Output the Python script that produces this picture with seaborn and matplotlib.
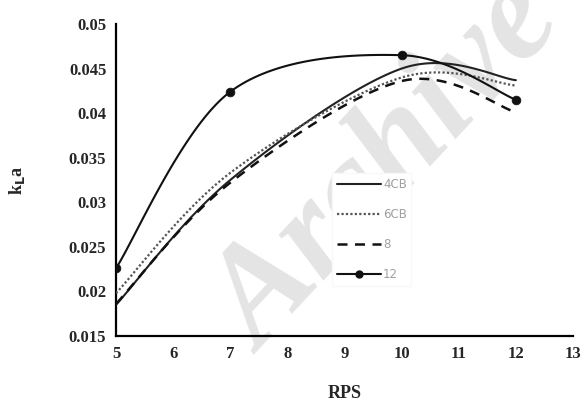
import numpy as np
import pandas as pd
import matplotlib
matplotlib.use("Agg")
import matplotlib.pyplot as plt
import seaborn as sns
from matplotlib.lines import Line2D

# ---- data ----
rps = [5, 7, 10, 12]
kla_4cb = [0.0185, 0.0325, 0.0450, 0.0437]
kla_6cb = [0.0198, 0.0333, 0.0440, 0.0431]
kla_8 = [0.0186, 0.0322, 0.0436, 0.0401]
kla_12 = [0.0226, 0.0424, 0.0465, 0.0415]
series_names = ["4CB", "6CB", "8", "12"]
x_ticks = [5, 6, 7, 8, 9, 10, 11, 12, 13]
y_ticks = [0.015, 0.02, 0.025, 0.03, 0.035, 0.04, 0.045, 0.05]


def smooth(xs, ys, n=40):
    """Excel-like smoothed line (cubic Bezier with 1/6 tangents)."""
    P = np.column_stack([xs, ys]).astype(float)
    out = []
    m = len(P)
    for i in range(m - 1):
        p0 = P[i - 1] if i > 0 else P[i]
        p1, p2 = P[i], P[i + 1]
        p3 = P[i + 2] if i + 2 < m else P[i + 1]
        c1 = p1 + (p2 - p0) / 6.0
        c2 = p2 - (p3 - p1) / 6.0
        t = np.linspace(0, 1, n)[:, None]
        seg = ((1 - t) ** 3) * p1 + 3 * ((1 - t) ** 2) * t * c1 + 3 * (1 - t) * t ** 2 * c2 + t ** 3 * p2
        out.append(seg if i == 0 else seg[1:])
    s = np.vstack(out)
    return s[:, 0], s[:, 1]


sns.set_style("white")
plt.rcParams["font.family"] = ["Liberation Serif", "DejaVu Serif"]

fig = plt.figure(figsize=(5.82, 4.03), dpi=100)
ax = fig.add_axes([116 / 582, 1 - 336 / 403, (573 - 116) / 582, (336 - 24) / 403])

# watermark (behind the plot)
fig.text(0.67, 0.58, "Archive", fontsize=100, color="#e4e4e4", rotation=47,
         ha="center", va="center", style="italic", fontweight="bold",
         family="Liberation Serif", zorder=-5)
ax.patch.set_alpha(0)

styles = {
    "4CB": dict(color="#222222", lw=1.5, ls="-"),
    "6CB": dict(color="#555555", lw=1.6, ls=(0, (1, 1))),
    "8": dict(color="#111111", lw=1.8, ls=(0, (4, 3))),
    "12": dict(color="#111111", lw=1.5, ls="-"),
}
vals = {"4CB": kla_4cb, "6CB": kla_6cb, "8": kla_8, "12": kla_12}

for name in series_names:
    sx, sy = smooth(rps, vals[name])
    df = pd.DataFrame({"RPS": sx, "kLa": sy})
    st = styles[name]
    sns.lineplot(data=df, x="RPS", y="kLa", ax=ax, sort=False, color=st["color"],
                 linewidth=st["lw"], linestyle=st["ls"], zorder=3)

df12 = pd.DataFrame({"RPS": rps, "kLa": kla_12})
sns.scatterplot(data=df12, x="RPS", y="kLa", ax=ax, color="#111111", s=40,
                edgecolor="#111111", zorder=4)

ax.set_xlim(5, 13)
ax.set_ylim(0.015, 0.05)
ax.set_xticks(x_ticks)
ax.set_yticks(y_ticks)
ax.set_xticklabels([str(v) for v in x_ticks])
ax.set_yticklabels([f"{v:g}" for v in y_ticks])
for lab in ax.get_xticklabels() + ax.get_yticklabels():
    lab.set_fontweight("bold")
    lab.set_fontsize(12)
ax.tick_params(axis="both", length=0, pad=7)
for s in ["top", "right"]:
    ax.spines[s].set_visible(False)
for s in ["left", "bottom"]:
    ax.spines[s].set_color("black")
    ax.spines[s].set_linewidth(1.6)

ax.set_xlabel("RPS", fontsize=13, fontweight="bold", labelpad=17)
ax.set_ylabel(r"k$_\mathbf{L}$a", fontsize=13, fontweight="bold", labelpad=30)

handles = []
for name in series_names:
    st = styles[name]
    handles.append(Line2D([0], [0], color=st["color"], lw=st["lw"], ls=st["ls"],
                          marker="o" if name == "12" else None, markersize=5))
leg = ax.legend(handles, series_names, loc="upper left", bbox_to_anchor=(0.46, 0.54),
                frameon=True, handlelength=3.7, labelspacing=1.45,
                handletextpad=0.2, prop={"family": "DejaVu Sans", "size": 8.5},
                facecolor="white", edgecolor="#f8f8f8", framealpha=1, fancybox=False)
for t in leg.get_texts():
    t.set_color("#a0a0a0")

fig.savefig("out.png", dpi=100)
